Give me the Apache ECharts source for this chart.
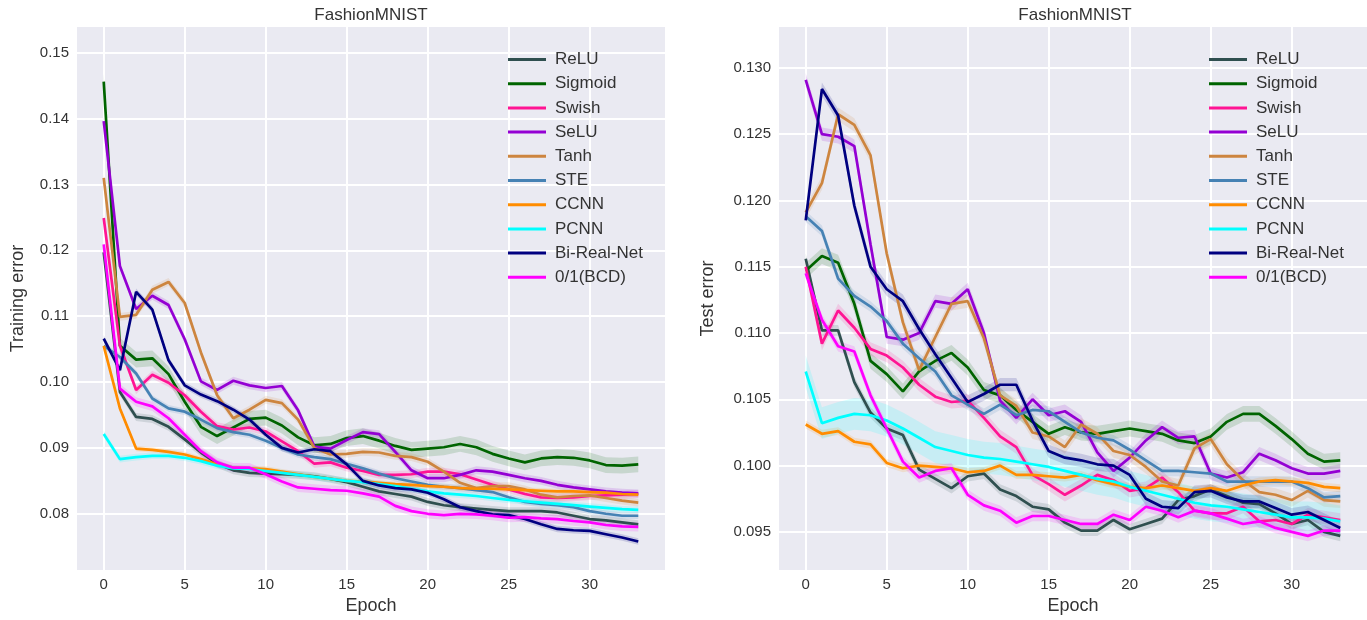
<!DOCTYPE html>
<html>
<head>
<meta charset="utf-8">
<script src="https://cdn.jsdelivr.net/npm/echarts@6/dist/echarts.min.js"></script>
<style>
  html, body { margin: 0; padding: 0; background: #fff; }
  #chart { width: 1367px; height: 620px; }
</style>
</head>
<body>
<div id="chart"></div>
<script>
// epochs on the x axis
const epochs = [0, 1, 2, 3, 4, 5, 6, 7, 8, 9, 10, 11, 12, 13, 14, 15, 16,
  17, 18, 19, 20, 21, 22, 23, 24, 25, 26, 27, 28, 29, 30, 31, 32, 33]
const names = ['ReLU', 'Sigmoid', 'Swish', 'SeLU', 'Tanh', 'STE', 'CCNN', 'PCNN', 'Bi-Real-Net', '0/1(BCD)']

// training error
const trainReLU = [0.1197, 0.0985, 0.0947, 0.0944, 0.0932, 0.0913, 0.0893, 0.0876, 0.0866, 0.0862, 0.0861, 0.086, 0.0859, 0.0857, 0.0853, 0.0848, 0.0841, 0.0834, 0.083, 0.0826, 0.0818, 0.0813, 0.081, 0.0808, 0.0806, 0.0804, 0.0804, 0.0804, 0.0802, 0.0797, 0.0792, 0.079, 0.0787, 0.0784]
const trainSigmoid = [0.1456, 0.1055, 0.1034, 0.1036, 0.1012, 0.097, 0.0932, 0.0918, 0.0931, 0.0944, 0.0946, 0.0934, 0.0916, 0.0904, 0.0906, 0.0915, 0.0918, 0.0911, 0.0903, 0.0897, 0.0899, 0.0901, 0.0906, 0.0901, 0.0891, 0.0884, 0.0878, 0.0884, 0.0886, 0.0885, 0.0881, 0.0874, 0.0873, 0.0875]
const trainSwish = [0.1249, 0.1055, 0.0988, 0.1011, 0.0999, 0.098, 0.0955, 0.0933, 0.0928, 0.0931, 0.0925, 0.091, 0.0895, 0.0876, 0.0878, 0.087, 0.0865, 0.0859, 0.0859, 0.086, 0.0864, 0.0864, 0.086, 0.0852, 0.0844, 0.0837, 0.083, 0.0825, 0.0824, 0.0825, 0.0827, 0.0828, 0.0829, 0.083]
const trainSeLU = [0.1396, 0.1176, 0.1111, 0.1131, 0.1117, 0.1065, 0.1001, 0.0988, 0.1002, 0.0995, 0.0991, 0.0994, 0.0957, 0.0902, 0.0899, 0.0912, 0.0924, 0.0921, 0.0894, 0.0866, 0.0854, 0.0854, 0.0859, 0.0866, 0.0864, 0.0859, 0.0854, 0.085, 0.0844, 0.084, 0.0837, 0.0834, 0.0832, 0.0831]
const trainTanh = [0.131, 0.1099, 0.1102, 0.114, 0.1152, 0.112, 0.1045, 0.098, 0.0945, 0.0958, 0.0973, 0.0968, 0.0943, 0.09, 0.089, 0.0891, 0.0894, 0.0893, 0.0888, 0.0886, 0.0879, 0.0864, 0.0847, 0.0839, 0.0842, 0.0842, 0.0837, 0.0829, 0.0825, 0.0827, 0.0828, 0.0824, 0.082, 0.0817]
const trainSTE = [0.1055, 0.1038, 0.1013, 0.0975, 0.096, 0.0955, 0.0943, 0.093, 0.0924, 0.092, 0.0911, 0.09, 0.089, 0.0886, 0.0883, 0.0876, 0.0869, 0.0861, 0.0854, 0.0849, 0.0844, 0.0841, 0.0839, 0.0836, 0.0833, 0.0825, 0.0818, 0.0815, 0.0813, 0.081, 0.0804, 0.08, 0.0797, 0.0797]
const trainCCNN = [0.1055, 0.096, 0.0899, 0.0897, 0.0894, 0.089, 0.0883, 0.0875, 0.087, 0.0869, 0.0868, 0.0864, 0.086, 0.0856, 0.0853, 0.085, 0.0849, 0.0847, 0.0845, 0.0844, 0.0842, 0.0841, 0.0839, 0.0838, 0.0838, 0.0837, 0.0836, 0.0835, 0.0834, 0.0834, 0.0833, 0.0832, 0.083, 0.0829]
const trainPCNN = [0.0921, 0.0883, 0.0886, 0.0888, 0.0888, 0.0885, 0.088, 0.0873, 0.0869, 0.0868, 0.0865, 0.0862, 0.0859, 0.0856, 0.0853, 0.085, 0.0848, 0.0845, 0.0842, 0.0838, 0.0834, 0.0831, 0.0829, 0.0827, 0.0824, 0.0821, 0.0819, 0.0817, 0.0815, 0.0813, 0.0811, 0.0809, 0.0807, 0.0806]
const trainBiReal = [0.1066, 0.1018, 0.1137, 0.111, 0.1033, 0.0995, 0.0981, 0.0971, 0.0958, 0.0943, 0.092, 0.09, 0.0893, 0.0898, 0.0895, 0.0875, 0.085, 0.0843, 0.0839, 0.0837, 0.0832, 0.0822, 0.081, 0.0804, 0.0799, 0.0798, 0.0792, 0.0784, 0.0777, 0.0775, 0.0774, 0.0769, 0.0764, 0.0758]
const trainBCD = [0.1209, 0.099, 0.097, 0.0963, 0.0945, 0.092, 0.0895, 0.0878, 0.087, 0.087, 0.086, 0.0849, 0.084, 0.0838, 0.0836, 0.0835, 0.0831, 0.0826, 0.0812, 0.0804, 0.08, 0.0798, 0.08, 0.0799, 0.0797, 0.0794, 0.0795, 0.0793, 0.0792, 0.0789, 0.0787, 0.0783, 0.0781, 0.078]
// half width of the shaded band, one per method
const trainSpread = [0.0006, 0.0012, 0.0006, 0.0006, 0.0006, 0.0005, 0.0004, 0.0005, 0.0005, 0.0007]

// test error
const testReLU = [0.1156, 0.1102, 0.1102, 0.1063, 0.104, 0.1028, 0.1023, 0.0997, 0.099, 0.0983, 0.0992, 0.0994, 0.0982, 0.0977, 0.0969, 0.0967, 0.0957, 0.0951, 0.0951, 0.0959, 0.0952, 0.0956, 0.096, 0.0974, 0.0977, 0.0982, 0.0977, 0.0972, 0.0971, 0.0964, 0.0956, 0.0959, 0.095, 0.0947]
const testSigmoid = [0.1147, 0.1158, 0.1153, 0.1122, 0.1079, 0.1069, 0.1056, 0.1071, 0.1079, 0.1085, 0.1074, 0.1057, 0.1053, 0.1042, 0.1033, 0.1024, 0.1029, 0.1025, 0.1024, 0.1026, 0.1028, 0.1026, 0.1024, 0.1019, 0.1017, 0.1022, 0.1033, 0.1039, 0.1039, 0.103, 0.102, 0.1009, 0.1003, 0.1004]
const testSwish = [0.115, 0.1092, 0.1117, 0.1104, 0.1088, 0.1083, 0.1074, 0.1061, 0.1052, 0.1048, 0.1049, 0.1036, 0.1022, 0.1014, 0.0993, 0.0986, 0.0978, 0.0985, 0.0993, 0.0989, 0.0981, 0.0983, 0.0991, 0.098, 0.0966, 0.0964, 0.0964, 0.0969, 0.0958, 0.0959, 0.0956, 0.0963, 0.0961, 0.0959]
const testSeLU = [0.1291, 0.125, 0.1248, 0.1241, 0.1167, 0.1097, 0.1095, 0.11, 0.1124, 0.1122, 0.1133, 0.11, 0.1049, 0.1036, 0.105, 0.1038, 0.1041, 0.1033, 0.101, 0.0996, 0.1006, 0.1019, 0.1029, 0.1021, 0.1022, 0.0994, 0.0991, 0.0995, 0.1009, 0.1004, 0.0998, 0.0994, 0.0994, 0.0996]
const testTanh = [0.1191, 0.1213, 0.1265, 0.1257, 0.1234, 0.116, 0.1108, 0.1072, 0.1097, 0.1122, 0.1124, 0.1096, 0.1053, 0.1045, 0.1025, 0.1022, 0.1014, 0.1031, 0.1024, 0.1011, 0.1008, 0.0999, 0.0988, 0.0985, 0.1013, 0.102, 0.1001, 0.0989, 0.098, 0.0978, 0.0974, 0.0981, 0.0974, 0.0973]
const testSTE = [0.1188, 0.1177, 0.1141, 0.1128, 0.112, 0.1109, 0.1092, 0.1081, 0.1071, 0.1053, 0.1046, 0.1039, 0.1046, 0.1038, 0.1042, 0.1041, 0.1033, 0.1025, 0.1021, 0.1019, 0.1012, 0.1004, 0.0996, 0.0996, 0.0995, 0.0994, 0.0988, 0.0988, 0.0988, 0.0988, 0.0988, 0.0983, 0.0976, 0.0977]
const testCCNN = [0.1031, 0.1024, 0.1026, 0.1018, 0.1016, 0.1002, 0.0998, 0.1, 0.0999, 0.0998, 0.0995, 0.0996, 0.1, 0.0993, 0.0993, 0.0992, 0.0991, 0.0993, 0.0989, 0.0986, 0.0984, 0.0983, 0.0985, 0.0983, 0.0981, 0.0983, 0.0981, 0.0985, 0.0988, 0.0989, 0.0988, 0.0987, 0.0984, 0.0983]
const testPCNN = [0.1071, 0.1032, 0.1036, 0.1039, 0.1038, 0.1034, 0.1028, 0.1021, 0.1014, 0.1011, 0.1008, 0.1006, 0.1005, 0.1003, 0.1001, 0.0999, 0.0996, 0.0993, 0.099, 0.0988, 0.0984, 0.0981, 0.0978, 0.0975, 0.0972, 0.097, 0.0969, 0.0967, 0.0965, 0.0963, 0.0961, 0.0961, 0.096, 0.0958]
const testBiReal = [0.1185, 0.1284, 0.1264, 0.1196, 0.115, 0.1133, 0.1124, 0.1103, 0.1084, 0.1066, 0.1048, 0.1054, 0.1061, 0.1061, 0.1034, 0.1011, 0.1006, 0.1004, 0.1001, 0.1, 0.0993, 0.0975, 0.0969, 0.0968, 0.098, 0.0981, 0.0976, 0.0973, 0.0973, 0.0968, 0.0963, 0.0965, 0.0959, 0.0953]
const testBCD = [0.1145, 0.111, 0.109, 0.1086, 0.1053, 0.1028, 0.1003, 0.0991, 0.0996, 0.0998, 0.0978, 0.097, 0.0966, 0.0957, 0.0962, 0.0962, 0.0959, 0.0956, 0.0956, 0.0963, 0.0959, 0.0969, 0.0966, 0.0961, 0.0966, 0.0964, 0.096, 0.0956, 0.0958, 0.0953, 0.095, 0.0947, 0.0951, 0.0951]
const testSpread = [0.0004, 0.0006, 0.0005, 0.0005, 0.0005, 0.0004, 0.0003, 0.0012, 0.0005, 0.0004]

// tick labels
const xTicks = [0, 5, 10, 15, 20, 25, 30]
const trainTicks = [0.08, 0.09, 0.10, 0.11, 0.12, 0.13, 0.14, 0.15]
const testTicks = [0.095, 0.100, 0.105, 0.110, 0.115, 0.120, 0.125, 0.130]

const trainData = [trainReLU, trainSigmoid, trainSwish, trainSeLU, trainTanh, trainSTE, trainCCNN, trainPCNN, trainBiReal, trainBCD]
const testData = [testReLU, testSigmoid, testSwish, testSeLU, testTanh, testSTE, testCCNN, testPCNN, testBiReal, testBCD]

const colors = ['#2F4F4F', '#006400', '#FF1493', '#9400D3', '#CD853F', '#4682B4', '#FF8C00', '#00FFFF', '#000080', '#FF00FF']
const font = 'Liberation Sans, Arial, sans-serif'
const textColor = '#333'

function xAxisOf (gridIndex) {
  return {
    type: 'value',
    gridIndex: gridIndex,
    min: -1.65,
    max: 34.65,
    name: 'Epoch',
    nameLocation: 'middle',
    nameGap: 24,
    nameTextStyle: { fontSize: 18, color: textColor, fontFamily: font },
    axisLine: { show: false },
    axisTick: { show: false, customValues: xTicks },
    axisLabel: { customValues: xTicks, fontSize: 15, color: textColor, fontFamily: font, margin: 7 },
    splitLine: { show: true, lineStyle: { color: '#fff', width: 2 } }
  }
}

function yAxisOf (gridIndex, min, max, ticks, digits, name, gap) {
  return {
    type: 'value',
    gridIndex: gridIndex,
    min: min,
    max: max,
    name: name,
    nameLocation: 'middle',
    nameGap: gap,
    nameTextStyle: { fontSize: 18, color: textColor, fontFamily: font },
    axisLine: { show: false },
    axisTick: { show: false, customValues: ticks },
    axisLabel: {
      customValues: ticks,
      fontSize: 15,
      color: textColor,
      fontFamily: font,
      margin: 8,
      formatter: v => v.toFixed(digits)
    },
    splitLine: { show: true, lineStyle: { color: '#fff', width: 2 } }
  }
}

// shaded band: one polygon through the upper and lower edges
function bandOf (vals, s, color, idx) {
  return {
    type: 'custom',
    xAxisIndex: idx,
    yAxisIndex: idx,
    silent: true,
    clip: true,
    z: 1,
    data: vals.map((v, k) => [epochs[k], v - s, v + s]),
    encode: { x: 0, y: [1, 2] },
    renderItem: (params, api) => {
      if (params.dataIndex !== 0) return null
      const upper = vals.map((v, k) => api.coord([epochs[k], v + s]))
      const lower = vals.map((v, k) => api.coord([epochs[k], v - s])).reverse()
      return {
        type: 'polygon',
        shape: { points: upper.concat(lower) },
        style: { fill: color, opacity: 0.15 }
      }
    }
  }
}

function panelSeries (data, spread, idx) {
  let bands = []
  let lines = []
  data.forEach((vals, i) => {
    bands.push(bandOf(vals, spread[i], colors[i], idx))
    lines.push({
      name: names[i],
      type: 'line',
      xAxisIndex: idx,
      yAxisIndex: idx,
      data: vals.map((v, k) => [epochs[k], v]),
      symbol: 'none',
      color: colors[i],
      lineStyle: { color: colors[i], width: 2.7 },
      z: 3
    })
  })
  return bands.concat(lines)
}

function legendOf (left) {
  return {
    data: names,
    orient: 'vertical',
    left: left,
    top: 46,
    icon: 'rect',
    itemWidth: 38,
    itemHeight: 3,
    itemGap: 7.2,
    selectedMode: false,
    textStyle: { fontSize: 17, color: textColor, fontFamily: font, padding: [0, 0, 0, 4] }
  }
}

const chart = echarts.init(document.getElementById('chart'))
const option = {
  animation: false,
  backgroundColor: '#fff',
  graphic: [
    { type: 'text', x: 371, y: 7, style: { text: 'FashionMNIST', fill: textColor, font: '17px ' + font, textAlign: 'center' } },
    { type: 'text', x: 1075, y: 7, style: { text: 'FashionMNIST', fill: textColor, font: '17px ' + font, textAlign: 'center' } }
  ],
  grid: [
    { left: 77, top: 27, width: 588, height: 549, show: true, backgroundColor: '#EAEAF2', borderWidth: 0 },
    { left: 779, top: 27, width: 588, height: 549, show: true, backgroundColor: '#EAEAF2', borderWidth: 0 }
  ],
  legend: [legendOf(503), legendOf(1204)],
  xAxis: [xAxisOf(0), xAxisOf(1)],
  yAxis: [
    yAxisOf(0, 0.07145, 0.1539, trainTicks, 2, 'Training error', 50),
    yAxisOf(1, 0.09212, 0.13308, testTicks, 3, 'Test error', 62)
  ],
  series: panelSeries(trainData, trainSpread, 0).concat(panelSeries(testData, testSpread, 1))
}
chart.setOption(option)
</script>
</body>
</html>
